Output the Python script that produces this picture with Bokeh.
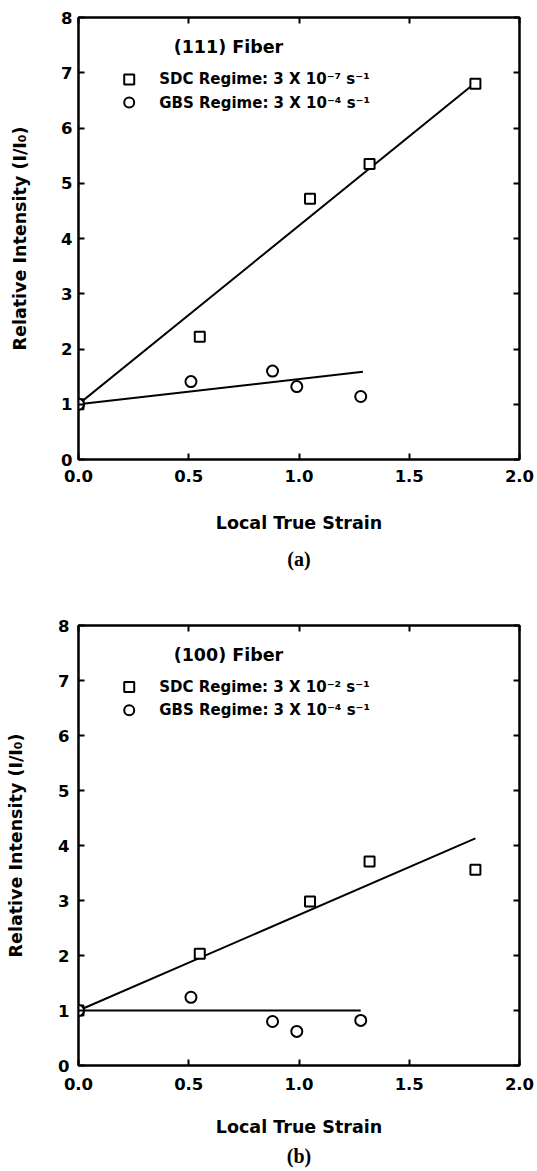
import math
from bokeh.plotting import figure
from bokeh.models import Range1d, LinearAxis, Label, FixedTicker, NumeralTickFormatter, Title
from bokeh.layouts import column
from bokeh.embed import file_html
from bokeh.resources import INLINE

# ---------------- data ----------------
strain_sdc = [0.0, 0.55, 1.05, 1.32, 1.80]
strain_gbs = [0.0, 0.51, 0.88, 0.99, 1.28]

a_sdc = [1.0, 2.22, 4.72, 5.35, 6.80]
a_gbs = [1.0, 1.41, 1.60, 1.32, 1.14]
a_sdc_fit_x = [0.0, 1.80]
a_sdc_fit_y = [1.0, 6.82]
a_gbs_fit_x = [0.0, 1.29]
a_gbs_fit_y = [1.0, 1.59]

b_sdc = [1.0, 2.03, 2.98, 3.71, 3.56]
b_gbs = [1.0, 1.24, 0.80, 0.62, 0.82]
b_sdc_fit_x = [0.0, 1.80]
b_sdc_fit_y = [1.0, 4.13]
b_gbs_fit_x = [0.0, 1.28]
b_gbs_fit_y = [1.0, 1.0]

x_ticks = [0.0, 0.5, 1.0, 1.5, 2.0]
y_ticks = [0, 1, 2, 3, 4, 5, 6, 7, 8]

x_title = "Local True Strain"
y_title = "Relative Intensity (I/I\u2080)"
sdc_label_a = "SDC Regime: 3 X 10\u207b\u2077  s\u207b\u00b9"
gbs_label = "GBS Regime: 3 X 10\u207b\u2074  s\u207b\u00b9"
sdc_label_b = "SDC Regime: 3 X 10\u207b\u00b2  s\u207b\u00b9"

SANS = "DejaVu Sans"
SERIF = "Liberation Serif"


def make_panel(height, left, right, top, bottom, sdc, gbs, sdc_fx, sdc_fy,
               gbs_fx, gbs_fy, fiber, sdc_label, caption,
               tick_standoff, ytick_standoff, xlab_standoff, ylab_standoff, cap_standoff):
    p = figure(width=537, height=height, x_range=Range1d(0, 2), y_range=Range1d(0, 8),
               output_backend="svg", toolbar_location=None,
               min_border_left=left, min_border_right=right,
               min_border_top=top, min_border_bottom=bottom)
    p.xgrid.visible = False
    p.ygrid.visible = False
    p.outline_line_color = "black"
    p.outline_line_width = 2
    p.background_fill_color = "white"
    p.border_fill_color = "white"

    for ax in (p.xaxis[0], p.yaxis[0]):
        ax.axis_line_width = 2
        ax.major_tick_line_width = 2
        ax.major_tick_in = 6
        ax.major_tick_out = 0
        ax.minor_tick_line_color = None
        ax.major_label_text_font = SANS
        ax.major_label_text_font_style = "bold"
        ax.major_label_text_font_size = "16.5px"
        ax.major_label_text_color = "black"
        ax.axis_label_text_font = SANS
        ax.axis_label_text_font_style = "bold"
        ax.axis_label_text_font_size = "17.5px"
        ax.axis_label_text_color = "black"
    p.xaxis[0].ticker = FixedTicker(ticks=x_ticks)
    p.xaxis[0].formatter = NumeralTickFormatter(format="0.0")
    p.xaxis[0].major_label_standoff = tick_standoff
    p.xaxis[0].axis_label = x_title
    p.xaxis[0].axis_label_standoff = xlab_standoff
    p.yaxis[0].ticker = FixedTicker(ticks=y_ticks)
    p.yaxis[0].major_label_standoff = ytick_standoff
    p.yaxis[0].axis_label = y_title
    p.yaxis[0].axis_label_standoff = ylab_standoff

    for loc, tk in (("above", x_ticks), ("right", y_ticks)):
        ax = LinearAxis(ticker=FixedTicker(ticks=tk))
        ax.axis_line_width = 2
        ax.major_tick_line_width = 2
        ax.major_tick_in = 6
        ax.major_tick_out = 0
        ax.minor_tick_line_color = None
        ax.major_label_overrides = {t: "" for t in tk}
        ax.major_label_standoff = 0
        p.add_layout(ax, loc)

    cap = Title(text=caption, align="center", text_font=SERIF, text_font_style="bold",
                text_font_size="20px", text_color="black", standoff=cap_standoff)
    p.add_layout(cap, "below")

    # fit lines
    p.line(sdc_fx, sdc_fy, line_color="black", line_width=2)
    p.line(gbs_fx, gbs_fy, line_color="black", line_width=2)
    # data markers
    p.scatter(strain_sdc, sdc, marker="square", size=10, fill_color="white",
              line_color="black", line_width=2)
    p.scatter(strain_gbs, gbs, marker="circle", size=11, fill_color="white",
              line_color="black", line_width=2)

    # legend (manual)
    leg_x = 0.23
    leg_y = [6.88, 6.46]
    p.scatter([leg_x], [leg_y[0]], marker="square", size=10, fill_color="white",
              line_color="black", line_width=2)
    p.scatter([leg_x], [leg_y[1]], marker="circle", size=10, fill_color="white",
              line_color="black", line_width=2)
    for yy, txt in zip(leg_y, [sdc_label, gbs_label]):
        p.add_layout(Label(x=leg_x, y=yy, x_offset=30, text=txt, text_align="left",
                           text_baseline="middle", text_font=SANS, text_font_style="bold",
                           text_font_size="15px", text_color="black"))
    p.add_layout(Label(x=0.68, y=7.47, text=fiber, text_align="center",
                       text_baseline="middle", text_font=SANS, text_font_style="bold",
                       text_font_size="17.5px", text_color="black"))
    return p


pa = make_panel(590, 74, 18, 17, 131, a_sdc, a_gbs, a_sdc_fit_x, a_sdc_fit_y,
                a_gbs_fit_x, a_gbs_fit_y, "(111) Fiber", sdc_label_a, "(a)",
                tick_standoff=10, ytick_standoff=6, xlab_standoff=28, ylab_standoff=28,
                cap_standoff=20)
pb = make_panel(581, 78, 15, 35, 106, b_sdc, b_gbs, b_sdc_fit_x, b_sdc_fit_y,
                b_gbs_fit_x, b_gbs_fit_y, "(100) Fiber", sdc_label_b, "(b)",
                tick_standoff=12, ytick_standoff=9, xlab_standoff=24, ylab_standoff=29,
                cap_standoff=7)

layout = column(pa, pb, spacing=0)
open("out.html", "w").write(file_html(layout, INLINE))
